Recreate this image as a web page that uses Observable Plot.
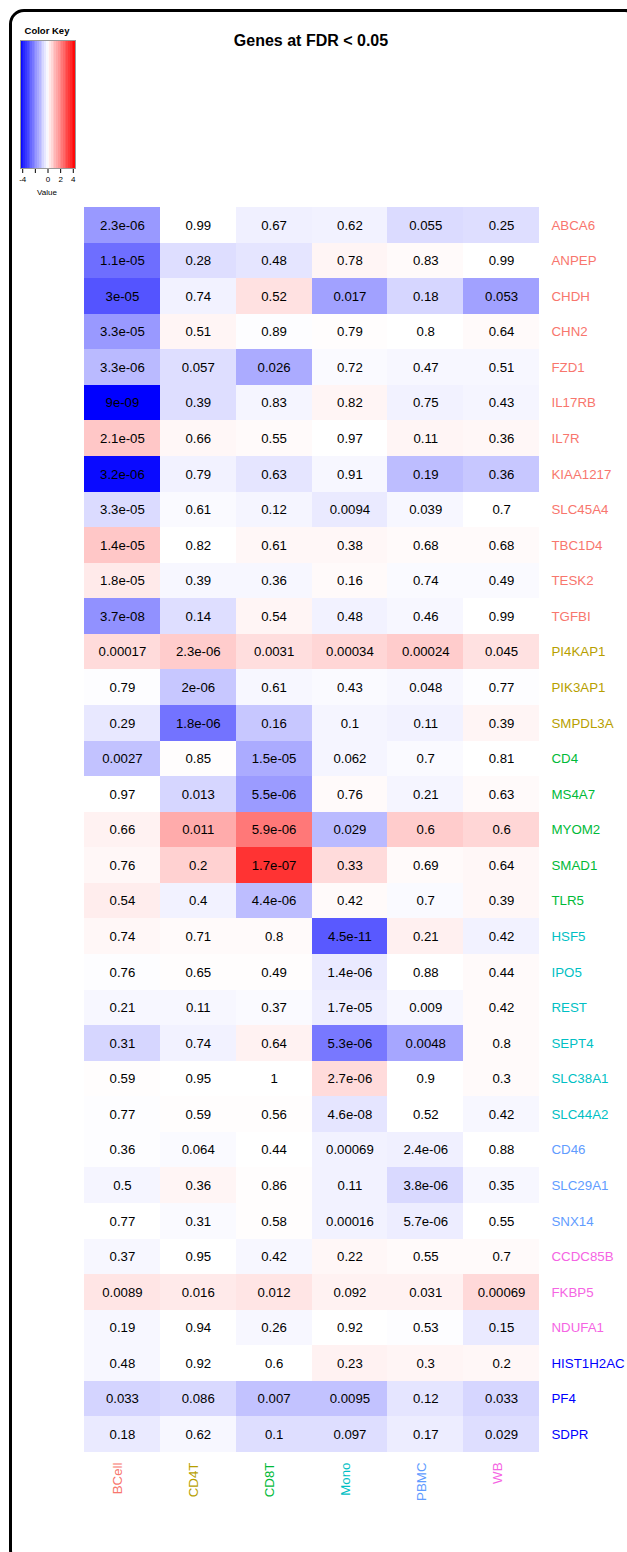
<!DOCTYPE html>
<html><head><meta charset="utf-8">
<script src="https://cdn.jsdelivr.net/npm/d3@7"></script>
<script src="https://cdn.jsdelivr.net/npm/@observablehq/plot@0.6"></script>
<style>
html,body{margin:0;padding:0;background:#fff;font-family:"Liberation Sans",Arial,Helvetica,sans-serif;overflow:hidden;}
#wrap{position:relative;width:627px;height:1552px;overflow:hidden;background:#fff;}
#frame{position:absolute;left:9px;top:9px;width:631px;height:1556px;border:3px solid #000;border-radius:15px;box-sizing:border-box;}
#title{position:absolute;left:0;width:622px;top:32px;text-align:center;font-weight:bold;font-size:16px;}
#keytitle{position:absolute;left:7px;width:80px;top:25px;text-align:center;font-weight:bold;font-size:9.5px;}
#keyvalue{position:absolute;left:7px;width:80px;top:188px;text-align:center;font-size:8px;}
#key{position:absolute;left:0;top:0;}
#main{position:absolute;left:0;top:0;}
</style></head>
<body>
<div id="wrap">
<div id="frame"></div>
<div id="main"></div>
<div id="key"></div>
<div id="title">Genes at FDR &lt; 0.05</div>
<div id="keytitle">Color Key</div>
<div id="keyvalue">Value</div>
</div>
<script>
const genes = ["ABCA6","ANPEP","CHDH","CHN2","FZD1","IL17RB","IL7R","KIAA1217","SLC45A4","TBC1D4","TESK2","TGFBI","PI4KAP1","PIK3AP1","SMPDL3A","CD4","MS4A7","MYOM2","SMAD1","TLR5","HSF5","IPO5","REST","SEPT4","SLC38A1","SLC44A2","CD46","SLC29A1","SNX14","CCDC85B","FKBP5","NDUFA1","HIST1H2AC","PF4","SDPR"];
const columns = ["BCell","CD4T","CD8T","Mono","PBMC","WB"];
const columnColors = ["#F8766D","#B79F00","#00BA38","#00BFC4","#619CFF","#F564E3"];
// gene group (which column colour the label takes); "Multi" drawn in blue
const geneGroups = ["BCell","BCell","BCell","BCell","BCell","BCell","BCell","BCell","BCell","BCell","BCell","BCell","CD4T","CD4T","CD4T","CD8T","CD8T","CD8T","CD8T","CD8T","Mono","Mono","Mono","Mono","Mono","Mono","PBMC","PBMC","PBMC","WB","WB","WB","Multi","Multi","Multi"];
const multiColor = "#0000FF";

// cell notes (FDR values as printed)
const pBCell = ["2.3e-06","1.1e-05","3e-05","3.3e-05","3.3e-06","9e-09","2.1e-05","3.2e-06","3.3e-05","1.4e-05","1.8e-05","3.7e-08","0.00017","0.79","0.29","0.0027","0.97","0.66","0.76","0.54","0.74","0.76","0.21","0.31","0.59","0.77","0.36","0.5","0.77","0.37","0.0089","0.19","0.48","0.033","0.18"];
const pCD4T = ["0.99","0.28","0.74","0.51","0.057","0.39","0.66","0.79","0.61","0.82","0.39","0.14","2.3e-06","2e-06","1.8e-06","0.85","0.013","0.011","0.2","0.4","0.71","0.65","0.11","0.74","0.95","0.59","0.064","0.36","0.31","0.95","0.016","0.94","0.92","0.086","0.62"];
const pCD8T = ["0.67","0.48","0.52","0.89","0.026","0.83","0.55","0.63","0.12","0.61","0.36","0.54","0.0031","0.61","0.16","1.5e-05","5.5e-06","5.9e-06","1.7e-07","4.4e-06","0.8","0.49","0.37","0.64","1","0.56","0.44","0.86","0.58","0.42","0.012","0.26","0.6","0.007","0.1"];
const pMono = ["0.62","0.78","0.017","0.79","0.72","0.82","0.97","0.91","0.0094","0.38","0.16","0.48","0.00034","0.43","0.1","0.062","0.76","0.029","0.33","0.42","4.5e-11","1.4e-06","1.7e-05","5.3e-06","2.7e-06","4.6e-08","0.00069","0.11","0.00016","0.22","0.092","0.92","0.23","0.0095","0.097"];
const pPBMC = ["0.055","0.83","0.18","0.8","0.47","0.75","0.11","0.19","0.039","0.68","0.74","0.46","0.00024","0.048","0.11","0.7","0.21","0.6","0.69","0.7","0.21","0.88","0.009","0.0048","0.9","0.52","2.4e-06","3.8e-06","5.7e-06","0.55","0.031","0.53","0.3","0.12","0.17"];
const pWB = ["0.25","0.99","0.053","0.64","0.51","0.43","0.36","0.36","0.7","0.68","0.49","0.99","0.045","0.77","0.39","0.81","0.63","0.6","0.64","0.39","0.42","0.44","0.42","0.8","0.3","0.42","0.88","0.35","0.55","0.7","0.00069","0.15","0.2","0.033","0.029"];

// signed colour values (key range about -4.35..4.35)
const vBCell = [-1.74,-2.48,-2.91,-1.74,-1.17,-4.35,0.96,-4.18,-0.61,0.96,0.35,-1.87,0.61,-0.04,-0.39,-1.04,0,0.22,0.13,0.30,0.13,-0.04,-0.13,-0.70,0.04,-0.04,-0.04,-0.17,0,-0.13,0.44,-0.13,-0.13,-0.74,-0.35];
const vCD4T = [0,-0.57,-0.22,0.17,-0.57,-0.57,0.13,-0.22,-0.09,0,-0.13,-0.57,0.87,-0.96,-2.39,0.04,-0.70,1.44,0.78,-0.22,0.09,0.04,-0.13,-0.22,0,0.04,-0.09,0.17,-0.09,0,0.35,0,0,-0.65,-0.13];
const vCD8T = [-0.26,-0.44,0.52,-0.04,-1.44,-0.17,0.09,-0.44,-0.17,0.13,-0.13,0.17,0.57,-0.13,-0.96,-1.44,-1.70,2.31,3.48,-1.13,0.09,0.04,-0.09,0.22,0,0.04,0,0.04,0.04,-0.13,0.44,-0.13,0,-1.04,-0.57];
const vMono = [-0.22,0.17,-1.61,0.04,-0.09,0.17,0,-0.13,-0.35,0.13,0.09,-0.22,0.70,-0.09,-0.17,-0.17,0.09,-1.17,0.61,0.09,-2.83,-0.35,-0.30,-2.31,0.61,-0.44,-0.22,-0.22,-0.22,0.13,0.22,0,0.22,-1.04,-0.57];
const vPBMC = [-0.61,0.09,-0.70,0,-0.13,-0.22,0.17,-1.13,-0.13,0.09,-0.09,-0.13,0.87,-0.13,-0.22,-0.09,-0.17,0.87,0.09,-0.09,0.26,0,-0.13,-1.52,0,0,-0.26,-0.65,-0.30,0.09,0.22,-0.04,0.17,-0.44,-0.30];
const vWB = [-0.57,0,-1.61,0.09,-0.13,-0.17,0.13,-0.96,0,0.09,-0.09,0,0.52,-0.04,0.17,0,0.09,0.70,0.13,0.13,-0.22,0.09,0.09,0.09,0.09,-0.13,0,-0.13,0,0.09,0.65,-0.35,0.13,-0.70,-0.57];

const keyMax = 4.35;
const keyTicks = [-4,-2,0,2,4];

const pByCol = {BCell:pBCell, CD4T:pCD4T, CD8T:pCD8T, Mono:pMono, PBMC:pPBMC, WB:pWB};
const vByCol = {BCell:vBCell, CD4T:vCD4T, CD8T:vCD8T, Mono:vMono, PBMC:vPBMC, WB:vWB};
const cells = [];
genes.forEach((g, i) => columns.forEach(c => cells.push({gene: g, col: c, p: pByCol[c][i], v: vByCol[c][i]})));

const colorScale = {type: "linear", domain: [-keyMax, 0, keyMax], range: ["#0000FF", "#FFFFFF", "#FF0000"], interpolate: "rgb", clamp: true};
const font = "'Liberation Sans', Arial, Helvetica, sans-serif";

const groupNames = [...columns, "Multi"];
const groupColor = g => g === "Multi" ? multiColor : columnColors[columns.indexOf(g)];

const rowLabelMarks = groupNames.map(g =>
  Plot.text(genes.filter((d, i) => geneGroups[i] === g), {
    y: d => d, frameAnchor: "right", textAnchor: "start", dx: 12,
    fill: groupColor(g), fontSize: 13.3
  }));
const colLabelMarks = columns.map((c, j) =>
  Plot.text([c], {
    x: d => d, frameAnchor: "bottom", rotate: -90, textAnchor: "end", dy: 10,
    fill: columnColors[j], fontSize: 13.3
  }));

const main = Plot.plot({
  width: 627, height: 1552,
  marginLeft: 84, marginRight: 88, marginTop: 207, marginBottom: 100,
  x: {domain: columns, axis: null, padding: 0, round: false},
  y: {domain: genes, axis: null, padding: 0, round: false},
  color: colorScale,
  style: {fontFamily: font, background: "transparent", overflow: "visible"},
  marks: [
    Plot.cell(cells, {x: "col", y: "gene", fill: "v", shapeRendering: "crispEdges"}),
    Plot.text(cells, {x: "col", y: "gene", text: "p", fill: "#000", fontSize: 13.2}),
    ...rowLabelMarks,
    ...colLabelMarks
  ]
});
document.getElementById("main").appendChild(main);

// colour key
const nBands = 32;
const bandW = 2 * keyMax / nBands;
const bands = d3.range(nBands).map(i => ({x1: -keyMax + i * bandW, x2: -keyMax + (i + 1) * bandW}));
const key = Plot.plot({
  width: 80, height: 200,
  marginLeft: 20, marginRight: 5, marginTop: 40, marginBottom: 32,
  x: {domain: [-keyMax, keyMax], ticks: keyTicks, tickFormat: d => d === -2 ? "" : String(d), tickSize: 5, tickPadding: 3, label: null},
  y: {domain: [0, 1], axis: null},
  color: colorScale,
  style: {fontFamily: font, fontSize: "8px", background: "transparent", overflow: "visible"},
  marks: [
    Plot.rect(bands, {x1: "x1", x2: "x2", y1: 0, y2: 1, fill: d => (d.x1 + d.x2) / 2, shapeRendering: "crispEdges"}),
    Plot.frame({stroke: "#999"})
  ]
});
document.getElementById("key").appendChild(key);
</script>
</body></html>
